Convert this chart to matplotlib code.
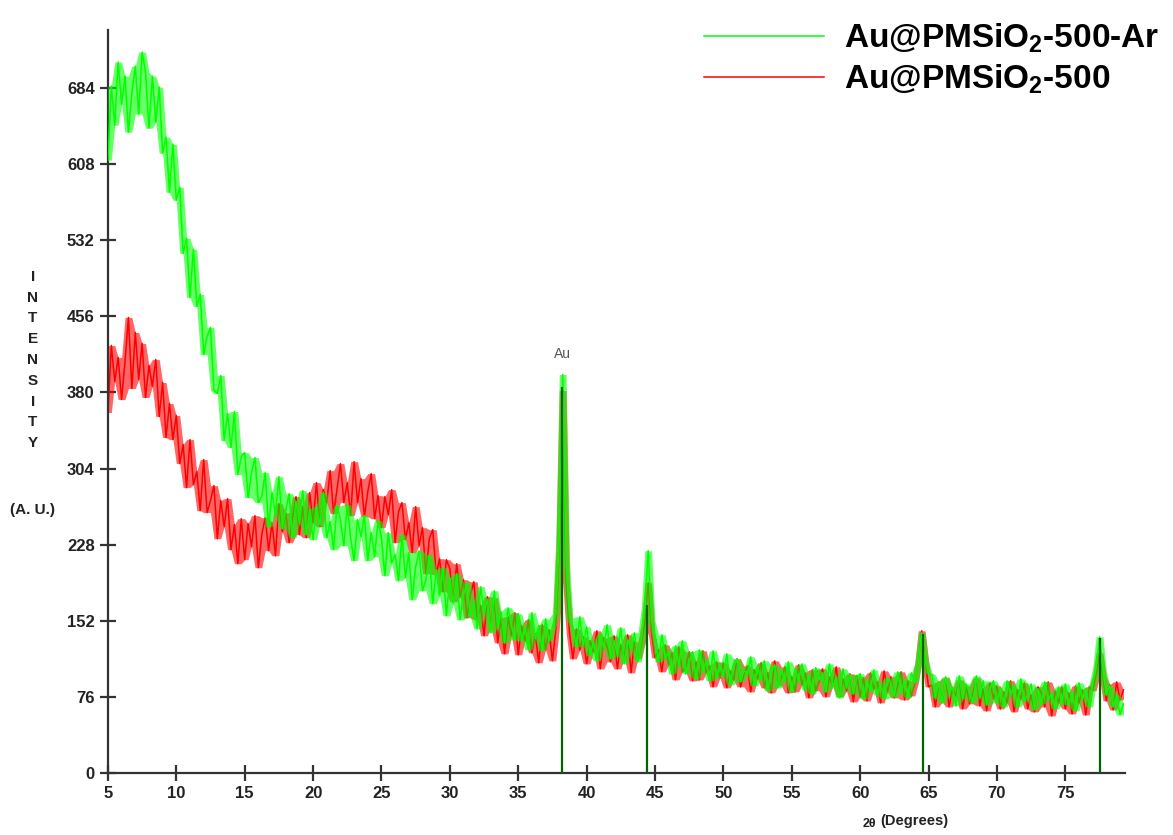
import numpy as np
import matplotlib
matplotlib.use("Agg")
import matplotlib.pyplot as plt

# 2-theta grid (0.25 deg steps, 5.00 .. 79.25)
two_theta = np.arange(5.0, 79.26, 0.25)

# Au@PMSiO2-500-Ar (green), one row = 5 degrees
ar_counts = [
    612, 686, 647, 710, 668, 696, 640, 679, 706, 658, 720, 700, 644, 696, 650, 685, 619, 635, 580, 628,
    572, 585, 519, 534, 475, 523, 466, 478, 418, 436, 445, 382, 379, 397, 332, 359, 325, 361, 298, 316,
    320, 275, 300, 315, 270, 276, 300, 246, 280, 258, 296, 244, 262, 279, 235, 271, 250, 282, 238, 263,
    233, 266, 248, 280, 235, 251, 223, 267, 253, 227, 268, 234, 212, 253, 236, 257, 212, 240, 216, 252,
    235, 197, 240, 210, 218, 192, 238, 195, 220, 173, 206, 222, 182, 193, 218, 169, 203, 177, 205, 157,
    195, 169, 199, 153, 178, 190, 156, 171, 144, 186, 160, 173, 140, 182, 145, 161, 130, 165, 148, 133,
    159, 132, 146, 123, 160, 134, 147, 122, 154, 132, 146, 159, 235, 398, 210, 155, 146, 126, 156, 127,
    146, 117, 131, 112, 139, 125, 148, 114, 132, 118, 145, 109, 133, 124, 140, 111, 132, 165, 222, 152,
    136, 111, 138, 115, 121, 99, 127, 107, 132, 99, 111, 121, 94, 123, 102, 112, 92, 122, 95, 108,
    97, 119, 88, 107, 114, 91, 103, 98, 116, 87, 107, 93, 112, 82, 101, 108, 85, 103, 92, 111,
    81, 104, 92, 109, 83, 98, 79, 105, 93, 100, 81, 109, 86, 95, 75, 104, 85, 98, 79, 95,
    99, 74, 92, 82, 103, 78, 89, 74, 95, 90, 76, 101, 80, 93, 75, 100, 90, 110, 140, 112,
    100, 98, 75, 91, 70, 96, 80, 86, 67, 97, 74, 89, 80, 70, 97, 76, 92, 68, 85, 92,
    70, 84, 66, 92, 78, 87, 66, 94, 72, 78, 89, 63, 84, 69, 91, 73, 79, 64, 86, 69,
    89, 68, 80, 62, 90, 74, 84, 66, 89, 105, 136, 102, 78, 87, 66, 78, 58, 69,
]

# Au@PMSiO2-500 (red)
air_counts = [
    360, 427, 391, 415, 373, 411, 455, 384, 440, 393, 429, 375, 407, 386, 413, 356, 390, 335, 369, 333,
    357, 309, 328, 285, 333, 288, 301, 262, 313, 260, 272, 287, 234, 272, 246, 274, 223, 248, 209, 254,
    213, 249, 226, 257, 205, 238, 255, 222, 250, 217, 269, 241, 260, 230, 255, 276, 238, 266, 235, 280,
    250, 290, 246, 283, 270, 302, 259, 283, 309, 270, 290, 257, 311, 270, 294, 256, 281, 299, 254, 277,
    245, 276, 258, 283, 230, 261, 270, 233, 250, 220, 266, 227, 245, 199, 234, 243, 198, 214, 181, 213,
    204, 171, 209, 176, 193, 155, 178, 191, 153, 167, 137, 176, 146, 175, 130, 155, 119, 156, 137, 160,
    118, 147, 132, 153, 120, 139, 110, 148, 123, 143, 112, 144, 225, 382, 190, 140, 114, 144, 123, 136,
    109, 132, 121, 142, 104, 135, 126, 111, 137, 104, 128, 115, 138, 100, 131, 114, 128, 150, 190, 140,
    115, 123, 101, 128, 108, 120, 93, 126, 101, 106, 121, 92, 111, 93, 122, 100, 107, 86, 111, 95,
    110, 85, 102, 93, 114, 86, 98, 107, 81, 103, 94, 110, 85, 100, 80, 112, 87, 96, 106, 80,
    96, 81, 108, 88, 100, 75, 103, 82, 92, 104, 76, 96, 87, 106, 76, 94, 82, 99, 71, 97,
    76, 95, 72, 100, 84, 91, 70, 102, 81, 96, 75, 88, 101, 73, 92, 77, 90, 110, 142, 112,
    86, 88, 66, 91, 71, 95, 66, 84, 77, 93, 64, 87, 69, 80, 95, 67, 84, 62, 90, 74,
    87, 64, 81, 70, 92, 61, 83, 74, 90, 64, 78, 61, 86, 80, 66, 91, 57, 82, 70, 86,
    64, 80, 59, 87, 70, 83, 58, 86, 82, 98, 120, 96, 72, 88, 63, 91, 73, 83,
]

# Au reference lines
au_positions = [38.2, 44.4, 64.6, 77.5]
au_heights = [385, 168, 139, 135]

series_labels = [r"Au@PMSiO$_\mathbf{2}$-500-Ar", r"Au@PMSiO$_\mathbf{2}$-500"]
x_ticks = list(range(5, 80, 5))
y_ticks = [0, 76, 152, 228, 304, 380, 456, 532, 608, 684]

plt.rcParams["mathtext.fontset"] = "custom"
plt.rcParams["mathtext.bf"] = "Liberation Sans:bold"
narrow = ["Liberation Sans Narrow", "Liberation Sans", "DejaVu Sans"]


def draw_trace(ax, x, y, color, z):
    # noisy scan: shade between neighbouring lows and highs, trace on top
    y = np.asarray(y, dtype=float)
    padded = np.pad(y, 1, mode="edge")
    lo = np.minimum(np.minimum(padded[:-2], padded[1:-1]), padded[2:])
    hi = np.maximum(np.maximum(padded[:-2], padded[1:-1]), padded[2:])
    ax.fill_between(x, lo, hi, color=color, lw=0, alpha=0.6, zorder=z)
    (line,) = ax.plot(x, y, color=color, lw=1.1, zorder=z + 0.5)
    return line


fig = plt.figure(figsize=(11.73, 8.35), dpi=100)
ax = fig.add_axes([0.092, 0.0743, 0.8675, 0.8897])

red_line = draw_trace(ax, two_theta, air_counts, "#ff0000", 2)
green_line = draw_trace(ax, two_theta, ar_counts, "#00ff00", 3)
ax.vlines(au_positions, 0, au_heights, color="#006400", lw=1.6, zorder=5)
ax.text(38.2, 418, "Au", ha="center", va="center", fontsize=10, color="#555555",
        family=["Liberation Sans", "DejaVu Sans"])

ax.set_xlim(5, 79.4)
ax.set_ylim(0, 742)
ax.set_xticks(x_ticks)
ax.set_yticks(y_ticks)
for side in ("top", "right"):
    ax.spines[side].set_visible(False)
for side in ("left", "bottom"):
    ax.spines[side].set_linewidth(1.6)
    ax.spines[side].set_color("#333333")
ax.tick_params(direction="inout", length=11, width=1.6, color="#333333", pad=4)
for lab in ax.get_xticklabels() + ax.get_yticklabels():
    lab.set_family(narrow)
    lab.set_fontweight("bold")
    lab.set_fontsize(12)
    lab.set_color("#222222")

fig.text(33 / 1173, 1 - 360 / 835, "\n".join("INTENSITY"), ha="center", va="center",
         fontsize=11, fontweight="bold", family=narrow, linespacing=1.62, color="#222222")
fig.text(33 / 1173, 1 - 510 / 835, "(A. U.)", ha="center", va="center",
         fontsize=11, fontweight="bold", family=narrow, color="#222222")
fig.text(869 / 1173, 1 - 824 / 835, "2θ", ha="center", va="center",
         fontsize=9, fontweight="bold", family=narrow, color="#222222")
fig.text(880 / 1173, 1 - 821 / 835, "(Degrees)", ha="left", va="center",
         fontsize=10.5, fontweight="bold", family=narrow, color="#222222")

fig.legend([green_line, red_line], series_labels, loc="upper left",
           bbox_to_anchor=(687 / 1173, 1 - 5 / 835), frameon=False,
           handlelength=3.6, handletextpad=0.6, labelspacing=0.22, borderpad=0,
           prop={"family": ["Liberation Sans", "DejaVu Sans"], "weight": "bold", "size": 24})

fig.savefig("out.png", dpi=100)
